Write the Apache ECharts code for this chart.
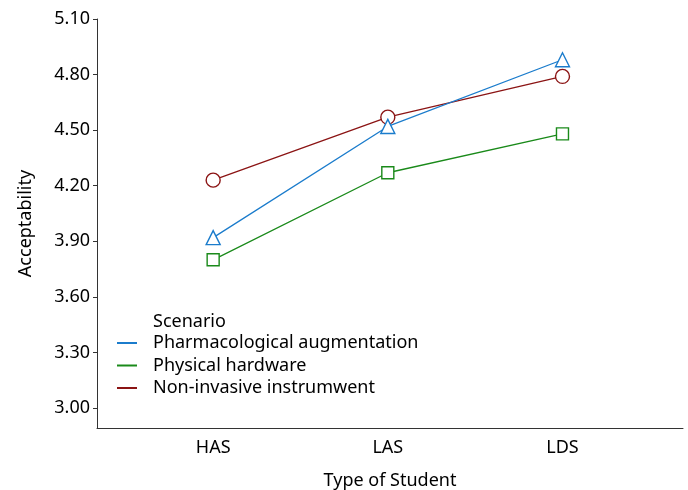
<!DOCTYPE html>
<html>
<head>
<meta charset="utf-8">
<script src="https://cdn.jsdelivr.net/npm/echarts@6/dist/echarts.min.js"></script>
<style>
  html, body { margin: 0; padding: 0; background: #fff; }
  #main { width: 688px; height: 490px; }
</style>
</head>
<body>
<div id="main"></div>
<script>
var categories = ['HAS', 'LAS', 'LDS']
var y_ticks = [3.00, 3.30, 3.60, 3.90, 4.20, 4.50, 4.80, 5.10]

var pharma = [3.92, 4.52, 4.88]
var hardware = [3.80, 4.27, 4.48]
var noninvasive = [4.23, 4.57, 4.79]

var names = ['Pharmacological augmentation', 'Physical hardware', 'Non-invasive instrumwent']
var color_list = ['#1b7ccc', '#1a8a1a', '#8b1414']
var symbols = ['triangle', 'rect', 'circle']
var font = 'Noto Sans'

function pts(arr) {
    var out = []
    for (var i = 0; i < arr.length; i++) {
        out.push([i + 1, arr[i]])
    }
    return out
}

function make_series(idx, arr) {
    return {
        name: names[idx],
        type: 'line',
        data: pts(arr),
        symbol: symbols[idx],
        symbolSize: symbols[idx] == 'rect' ? 12 : 14,
        showAllSymbol: true,
        lineStyle: { color: color_list[idx], width: 1.3 },
        itemStyle: { color: '#fff', borderColor: color_list[idx], borderWidth: 1.4 },
        emphasis: { disabled: true },
        z: 3 - idx
    }
}

var myChart = echarts.init(document.getElementById('main'))
var option = {
    animation: false,
    textStyle: { fontFamily: font },
    title: {
        text: 'Scenario',
        left: 153,
        top: 311,
        padding: 0,
        textStyle: { fontFamily: font, fontSize: 18, lineHeight: 22, fontWeight: 'normal', color: '#000' }
    },
    legend: {
        orient: 'vertical',
        left: 117,
        top: 332,
        padding: 0,
        itemWidth: 20,
        itemHeight: 2,
        itemGap: 0.5,
        textStyle: { fontFamily: font, fontSize: 18, lineHeight: 22, color: '#000', padding: [0, 0, 0, 11] },
        data: names.map(function (n, i) {
            return { name: n, icon: 'rect', itemStyle: { color: color_list[i], borderWidth: 0 } }
        })
    },
    grid: { left: 97, right: 5, top: 19, bottom: 62, outerBoundsMode: 'none', containLabel: false },
    xAxis: {
        type: 'value',
        min: 0.335,
        max: 3.69,
        name: 'Type of Student',
        nameLocation: 'middle',
        nameGap: 44,
        nameTextStyle: { fontFamily: font, fontSize: 18, color: '#000' },
        splitLine: { show: false },
        axisLine: { lineStyle: { color: '#333', width: 1 } },
        axisTick: { show: false },
        axisLabel: {
            customValues: [1, 2, 3],
            formatter: function (v) { return categories[Math.round(v) - 1] },
            margin: 11,
            fontFamily: font, fontSize: 18, color: '#000'
        }
    },
    yAxis: {
        type: 'value',
        min: 2.892,
        max: 5.10,
        name: 'Acceptability',
        nameLocation: 'middle',
        nameGap: 62,
        nameTextStyle: { fontFamily: font, fontSize: 18, color: '#000' },
        splitLine: { show: false },
        axisLine: { show: true, lineStyle: { color: '#333', width: 1 } },
        axisTick: { show: true, length: 4, customValues: y_ticks, lineStyle: { color: '#333' } },
        axisLabel: {
            customValues: y_ticks,
            formatter: function (v) { return v.toFixed(2) },
            margin: 7,
            fontFamily: font, fontSize: 18, color: '#000'
        }
    },
    series: [
        make_series(0, pharma),
        make_series(1, hardware),
        make_series(2, noninvasive)
    ]
}
myChart.setOption(option)
</script>
</body>
</html>
